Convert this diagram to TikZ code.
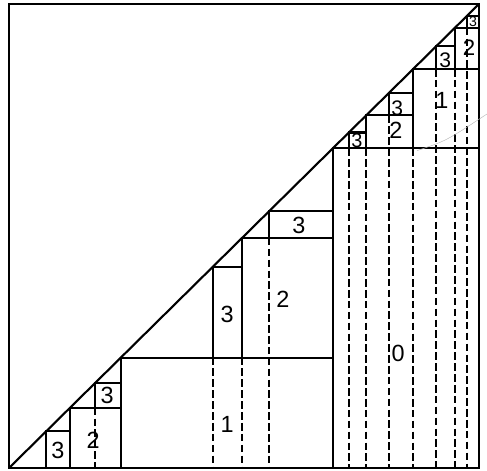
\documentclass[tikz,border=0pt]{standalone}
\usepackage{fontspec}
\setmainfont{Liberation Sans}
\begin{document}
\begin{tikzpicture}[x=14.1cm,y=13.92cm,line width=1.8pt,
    cut/.style={line width=1.5pt,dash pattern=on 6.5pt off 2.8pt},
    lab/.style={inner sep=0pt}]
  \useasboundingbox (-0.0191,-0.0043) rectangle (1.0170,1.0086);
  \draw[line width=2.2pt] (0,0) rectangle (1,1);
  \draw (0,0) -- (1,1);
  \foreach \a/\c/\b/\lab/\lx/\ly/\sz [count=\i] in {
    0/.689/1/0/.828/.248/20,
    0/.238/.689/1/.464/.093/20,
    .689/.860/1/1/.921/.793/20,
    0/.130/.238/2/.179/.060/20,
    .238/.496/.689/2/.583/.364/20,
    .689/.760/.860/2/.823/.728/20,
    .860/.949/1/2/.979/.905/19,
    0/.079/.130/3/.104/.037/20,
    .130/.183/.238/3/.209/.157/20,
    .238/.434/.496/3/.464/.330/20,
    .496/.553/.689/3/.617/.522/20,
    .689/.723/.760/3/.740/.705/17,
    .760/.809/.860/3/.826/.776/18,
    .860/.909/.949/3/.928/.879/18,
    .949/.974/1/3/.987/.961/12}
  {
    \draw[cut] (\c,\a) -- (\c,0);
    \draw (\c,\a) rectangle (\b,\c);
    \node[lab,font=\fontsize{\sz}{\sz}\selectfont] (blk\i) at (\lx,\ly) {\lab};
  }
  \draw[gray!55,line width=.4pt] (.868,.684) .. controls (.93,.705) .. (1.017,.763);
\end{tikzpicture}
\end{document}
